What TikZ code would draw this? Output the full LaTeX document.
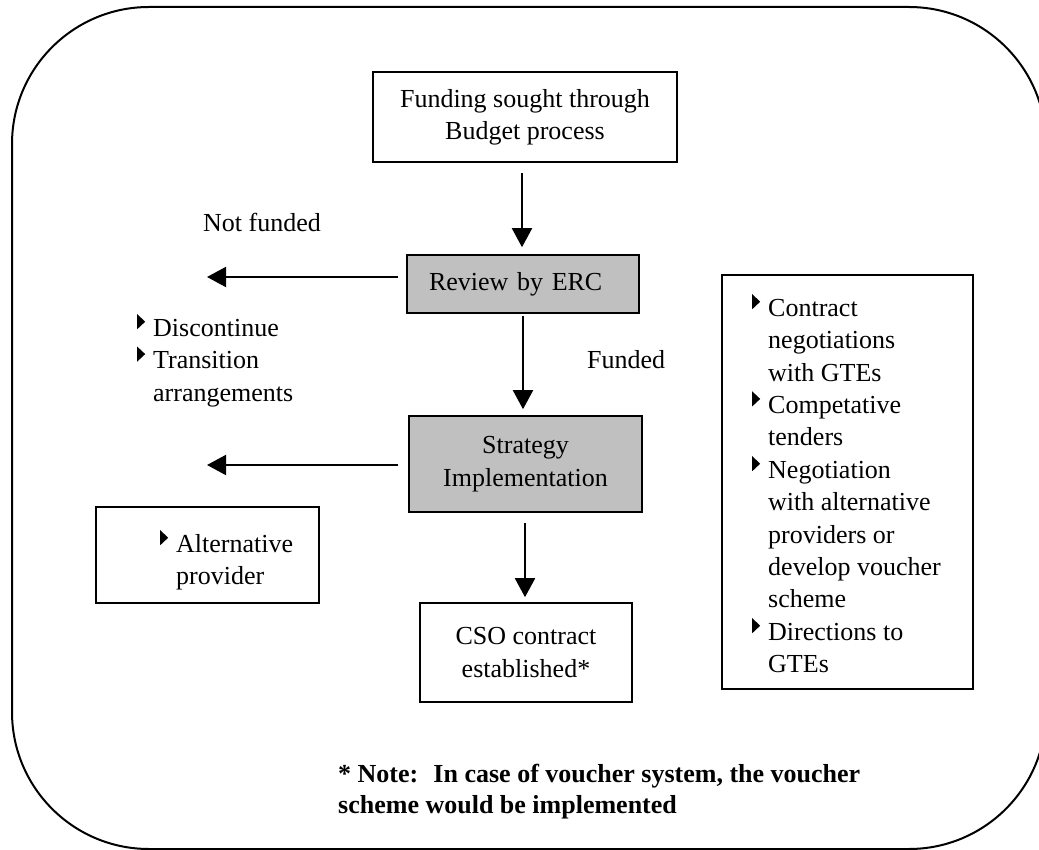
\documentclass[tikz,border=0pt]{standalone}
\usepackage{fontspec}
\setmainfont{Liberation Serif}
\usetikzlibrary{arrows.meta}
\definecolor{boxgray}{RGB}{192,192,192}
% small right-pointing triangle used as list bullet, plus hanging indent
\newcommand\bul{\makebox[16pt][l]{\tikz[baseline=0pt]\fill (0pt,7pt)--(0pt,22pt)--(8pt,14.5pt)--cycle;}}
\newcommand\hang{\hspace*{16pt}}
\begin{document}
\begin{tikzpicture}[x=1pt,y=-1pt,
  font=\fontsize{26}{32.4}\selectfont,
  frame/.style={draw,line width=2pt,rounded corners=137pt},
  plainbox/.style={draw,line width=1.6pt,align=center,inner sep=0pt},
  graybox/.style={plainbox,fill=boxgray},
  arr/.style={line width=2pt,-{Triangle[length=19pt,width=20pt]}},
  lbl/.style={inner sep=0pt,anchor=base west},
  list/.style={inner sep=0pt,anchor=north west,align=left}]
\useasboundingbox (0,0) rectangle (1039,850);

% outer rounded frame, partly running off the page
\begin{scope}
  \clip (0,0) rectangle (1039,850);
  \draw[frame] (12,7) rectangle (1046,849);
\end{scope}

% main flow
\node[plainbox,minimum width=304pt,minimum height=90pt] (funding) at (525,117) {Funding sought through\\Budget process};
\node[graybox,minimum width=232pt,minimum height=58pt,text width=188pt,inner xsep=22pt,align=left] (review) at (523,284) {Review by ERC};
\node[graybox,minimum width=233pt,minimum height=96pt] (strategy) at (525.5,464) {Strategy\\Implementation};
\node[plainbox,minimum width=212pt,minimum height=99pt] (cso) at (526,652.5) {CSO contract\\established*};

% side outcomes
\node[lbl] (nf) at (203,232) {Not funded};
\node[lbl] (fd) at (587,368) {Funded};
\node[list] (nflist) at (137,314) {\bul Discontinue\\\bul Transition\\\hang arrangements};

\node[plainbox,minimum width=223pt,minimum height=96pt] (altbox) at (207.5,555) {};
\node[list] (alttext) at (160,530) {\bul Alternative\\\hang provider};

\node[plainbox,anchor=north west,minimum width=251pt,minimum height=414pt] (optbox) at (721,274) {};
\node[list] (opttext) at (752,294) {\bul Contract\\\hang negotiations\\\hang with GTEs\\\bul Competative\\\hang tenders\\\bul Negotiation\\\hang with alternative\\\hang providers or\\\hang develop voucher\\\hang scheme\\\bul Directions to\\\hang GTEs};

\node[list,font=\fontsize{26}{31}\selectfont\bfseries] (note) at (338,764) {* Note:~ In case of voucher system, the voucher\\scheme would be implemented};

% arrow end points on the left
\coordinate (nfend) at (207,277);
\coordinate (sfend) at (207,465);

% connectors
\draw[arr] ([shift={(-3,10)}]funding.south) -- ([shift={(-1,-7)}]review.north);
\draw[arr] ([shift={(0,2)}]review.south) -- ([shift={(-2.5,-6)}]strategy.north);
\draw[arr] ([shift={(-0.5,10)}]strategy.south) -- ([shift={(-1,-5)}]cso.north);
\draw[arr] ([shift={(-8,-7)}]review.west) -- (nfend);
\draw[arr] ([shift={(-10,1)}]strategy.west) -- (sfend);
\end{tikzpicture}
\end{document}
